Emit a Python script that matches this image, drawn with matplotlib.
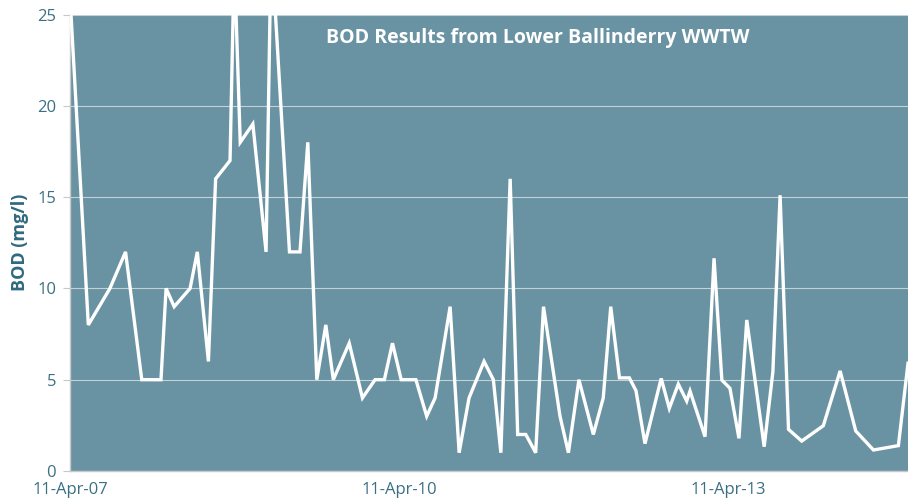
import pandas as pd
import matplotlib
matplotlib.use("Agg")
import matplotlib.pyplot as plt
import matplotlib.dates as mdates

# BOD samples
sample_dates = [
    "2007-04-11", "2007-06-11", "2007-08-22", "2007-10-13", "2007-12-06",
    "2008-02-08", "2008-02-25", "2008-03-23", "2008-05-15", "2008-06-08",
    "2008-07-15", "2008-08-08", "2008-09-25", "2008-10-09", "2008-10-29",
    "2008-12-10", "2009-01-23", "2009-02-09", "2009-04-11", "2009-05-16",
    "2009-06-11", "2009-07-11", "2009-08-10", "2009-09-04", "2009-10-27",
    "2009-12-10", "2010-01-21", "2010-02-21", "2010-03-20", "2010-04-18",
    "2010-06-06", "2010-07-12", "2010-08-09", "2010-09-28", "2010-10-28",
    "2010-11-30", "2011-01-19", "2011-02-19", "2011-03-16", "2011-04-16",
    "2011-05-11", "2011-06-07", "2011-07-10", "2011-08-05", "2011-09-29",
    "2011-10-27", "2011-12-01", "2012-01-18", "2012-02-20", "2012-03-16",
    "2012-04-14", "2012-05-17", "2012-06-08", "2012-07-08", "2012-08-31",
    "2012-09-27", "2012-10-27", "2012-11-24", "2012-12-05", "2013-01-24",
    "2013-02-23", "2013-03-21", "2013-04-17", "2013-05-17", "2013-06-12",
    "2013-08-09", "2013-09-07", "2013-10-01", "2013-10-29", "2013-12-12",
    "2014-02-22", "2014-04-19", "2014-06-10", "2014-08-08", "2014-10-30",
    "2014-12-01",
]
bod_values = [
    26, 8, 10, 12, 5,
    5, 10, 9, 10, 12,
    6, 16, 17, 28, 18,
    19, 12, 29, 12, 12,
    18, 5, 8, 5, 7,
    4, 5, 5, 7, 5,
    5, 3, 4, 9, 1,
    4, 6, 5, 1, 16,
    2, 2, 1, 9, 3,
    1, 5, 2, 4, 9,
    5.1, 5.1, 4.4, 1.5, 5.07,
    3.43, 4.76, 3.83, 4.38, 1.88,
    11.65, 4.98, 4.53, 1.79, 8.27,
    1.33, 5.44, 15.1, 2.28, 1.64,
    2.48, 5.48, 2.19, 1.15, 1.39,
    5.9,
]
tick_dates = ["2007-04-11", "2010-04-11", "2013-04-11"]
x_start, x_end = "2007-04-11", "2014-12-01"

bg = "#6993a3"
label_col = "#3b7083"

dates = pd.to_datetime(sample_dates)

fig = plt.figure(figsize=(9.08, 4.99), dpi=100)
ax = fig.add_axes([70 / 908, 28 / 499, 838 / 908, 456.5 / 499])
ax.set_facecolor(bg)

ax.plot(dates, bod_values, color="white", lw=2.4, solid_joinstyle="miter", zorder=3)

ax.set_xlim(pd.Timestamp(x_start), pd.Timestamp(x_end))
ax.set_ylim(0, 25)
ax.set_yticks([0, 5, 10, 15, 20, 25])
ax.set_xticks(pd.to_datetime(tick_dates))
ax.xaxis.set_major_formatter(mdates.DateFormatter("%d-%b-%y"))

ax.grid(axis="y", color="#c3d2d8", lw=0.8, zorder=1)
for s in ["top", "right"]:
    ax.spines[s].set_visible(False)
for s in ["left", "bottom"]:
    ax.spines[s].set_color("#c8c8c8")
    ax.spines[s].set_linewidth(1.0)

ax.tick_params(axis="y", length=5, color="#c8c8c8", labelcolor=label_col,
               labelsize=12, pad=5)
ax.tick_params(axis="x", length=0, labelcolor=label_col, labelsize=12, pad=8)
for lbl in ax.get_xticklabels() + ax.get_yticklabels():
    lbl.set_fontfamily("Open Sans")

ax.set_ylabel("BOD (mg/l)", fontsize=13, fontweight="bold", color="#2f6a7e",
              fontfamily="Open Sans", labelpad=6)
ax.text(0.558, 0.948, "BOD Results from Lower Ballinderry WWTW",
        transform=ax.transAxes, ha="center", va="center", color="white",
        fontsize=14, fontweight="bold", fontfamily="Open Sans")

fig.savefig("out.png", dpi=100)
